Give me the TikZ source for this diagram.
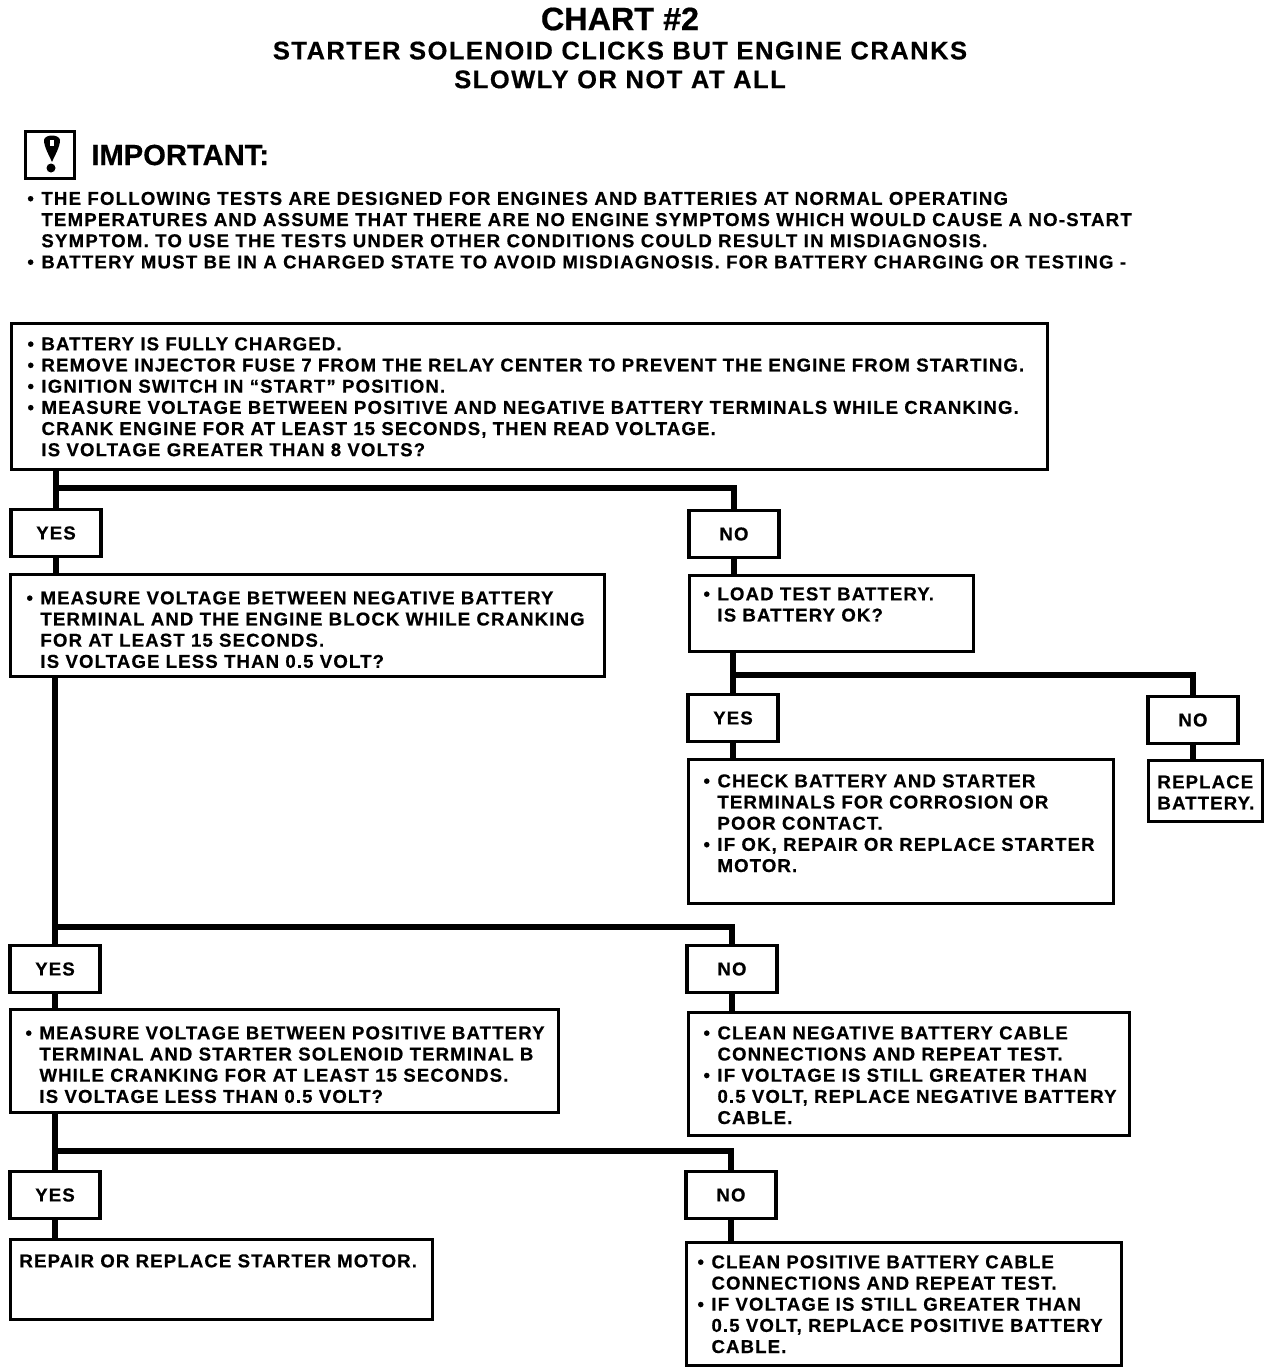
\documentclass[tikz,border=0pt]{standalone}
\usepackage{fontspec}
\setmainfont{Liberation Sans}[BoldFeatures={FakeBold=0.5}]
\newfontfamily\chartfont[LetterSpace=6.0,BoldFeatures={FakeBold=0.5}]{Liberation Sans}
\newfontfamily\notefont[LetterSpace=6.5,BoldFeatures={FakeBold=0.5}]{Liberation Sans}
\newlength{\px}
\setlength{\px}{0.02cm}
\newcommand{\bul}{\makebox[14\px][l]{\textbullet}}
\newcommand{\ind}{\hspace*{14\px}}
% width, height, left offset, top offset, lines
\newcommand{\boxtxt}[5]{\parbox[t][#2\px][t]{#1\px}{\vspace*{#4\px}\leftskip=#3\px\relax\rightskip=0pt plus 1fil\relax\strut #5\strut}}
\tikzset{
  box/.style={draw, line width=1.7pt, anchor=north west, inner sep=0pt,
    font=\chartfont\bfseries\fontsize{10.6}{12.05}\selectfont},
  tag/.style={draw, line width=1.9pt, inner sep=0pt, minimum width=90\px, minimum height=47\px,
    font=\chartfont\bfseries\fontsize{10.6}{12.05}\selectfont},
  note/.style={anchor=north west, inner sep=0pt, align=left,
    font=\notefont\bfseries\fontsize{10.6}{12.05}\selectfont},
  trunk/.style={line width=3.9pt}
}
\begin{document}
\begin{tikzpicture}[x=0.02cm, y=-0.02cm]
    \useasboundingbox (0,0) rectangle (1280,1372);
    \fill[white] (0,0) rectangle (1280,1372);

    % 1. Title
    \node[font=\bfseries\fontsize{18.4}{18}\selectfont] (chart) at (620,19) {CHART \#2};
    \node[font=\chartfont\bfseries\fontsize{14.5}{16.4}\selectfont, align=center] (title) at (620,65)
        {STARTER SOLENOID CLICKS BUT ENGINE CRANKS\\SLOWLY OR NOT AT ALL};

    % 2. Warning
    \node[draw, line width=2pt, minimum width=49\px, minimum height=47\px, inner sep=0pt] (warn) at (50,155) {};
    \fill (44,140) .. controls (45,134) and (59,134) .. (60,140)
        .. controls (60,147) and (55,155) .. (52,162)
        .. controls (49,155) and (44,147) .. (44,140) -- cycle;
    \fill[white] (50,140) rectangle (54,146);
    \fill (51,168) circle (4.5);
    \node[anchor=west, inner sep=0pt, font=\bfseries\fontsize{16.6}{18}\selectfont] (important) at (91,155) {IMPORTANT:};
    \node[note] (tests) at (27,191.5) {\bul THE FOLLOWING TESTS ARE DESIGNED FOR ENGINES AND BATTERIES AT NORMAL OPERATING\\
        \ind TEMPERATURES AND ASSUME THAT THERE ARE NO ENGINE SYMPTOMS WHICH WOULD CAUSE A NO-START\\
        \ind SYMPTOM. TO USE THE TESTS UNDER OTHER CONDITIONS COULD RESULT IN MISDIAGNOSIS.\\
        \bul BATTERY MUST BE IN A CHARGED STATE TO AVOID MISDIAGNOSIS. FOR BATTERY CHARGING OR TESTING -};

    % 3. First test
    \node[box] (main) at (10,322) {\boxtxt{1036}{146}{16}{12}{\bul BATTERY IS FULLY CHARGED.\\
        \bul REMOVE INJECTOR FUSE 7 FROM THE RELAY CENTER TO PREVENT THE ENGINE FROM STARTING.\\
        \bul IGNITION SWITCH IN “START” POSITION.\\
        \bul MEASURE VOLTAGE BETWEEN POSITIVE AND NEGATIVE BATTERY TERMINALS WHILE CRANKING.\\
        \ind CRANK ENGINE FOR AT LEAST 15 SECONDS, THEN READ VOLTAGE.\\
        \ind IS VOLTAGE GREATER THAN 8 VOLTS?}};
    \node[tag] (yesa) at (56,533) {YES};
    \node[tag] (noa) at (734,534) {NO};
    \node[box] (groundtest) at (9,573) {\boxtxt{594}{102}{16}{15}{\bul MEASURE VOLTAGE BETWEEN NEGATIVE BATTERY\\
        \ind TERMINAL AND THE ENGINE BLOCK WHILE CRANKING\\
        \ind FOR AT LEAST 15 SECONDS.\\
        \ind IS VOLTAGE LESS THAN 0.5 VOLT?}};
    \node[box] (loadtest) at (688,574) {\boxtxt{284}{76}{14}{10}{\bul LOAD TEST BATTERY.\\
        \ind IS BATTERY OK?}};

    % 4. Battery branch
    \node[tag] (yesb) at (733,718) {YES};
    \node[tag] (nob) at (1193,720) {NO};
    \node[box] (corrosion) at (687,758) {\boxtxt{425}{144}{15}{13}{\bul CHECK BATTERY AND STARTER\\
        \ind TERMINALS FOR CORROSION OR\\
        \ind POOR CONTACT.\\
        \bul IF OK, REPAIR OR REPLACE STARTER\\
        \ind MOTOR.}};
    \node[box] (replace) at (1147,759) {\boxtxt{114}{61}{9}{13}{REPLACE\\BATTERY.}};

    % 5. Ground branch
    \node[tag] (yesc) at (55,969) {YES};
    \node[tag] (noc) at (732,969) {NO};
    \node[box] (solenoid) at (9,1008) {\boxtxt{548}{103}{15}{15}{\bul MEASURE VOLTAGE BETWEEN POSITIVE BATTERY\\
        \ind TERMINAL AND STARTER SOLENOID TERMINAL B\\
        \ind WHILE CRANKING FOR AT LEAST 15 SECONDS.\\
        \ind IS VOLTAGE LESS THAN 0.5 VOLT?}};
    \node[box] (negcable) at (687,1011) {\boxtxt{441}{123}{15}{12}{\bul CLEAN NEGATIVE BATTERY CABLE\\
        \ind CONNECTIONS AND REPEAT TEST.\\
        \bul IF VOLTAGE IS STILL GREATER THAN\\
        \ind 0.5 VOLT, REPLACE NEGATIVE BATTERY\\
        \ind CABLE.}};

    % 6. Solenoid branch
    \node[tag] (yesd) at (55,1195) {YES};
    \node[tag] (nod) at (731,1195) {NO};
    \node[box] (repair) at (9,1238) {\boxtxt{422}{80}{9}{13}{REPAIR OR REPLACE STARTER MOTOR.}};
    \node[box] (poscable) at (685,1241) {\boxtxt{435}{123}{11}{11}{\bul CLEAN POSITIVE BATTERY CABLE\\
        \ind CONNECTIONS AND REPEAT TEST.\\
        \bul IF VOLTAGE IS STILL GREATER THAN\\
        \ind 0.5 VOLT, REPLACE POSITIVE BATTERY\\
        \ind CABLE.}};

    % 7. Heavy lines
    \coordinate (forka) at (0,488);
    \coordinate (forkb) at (0,675);
    \coordinate (forkc) at (0,927);
    \coordinate (forkd) at (0,1151);
    \draw[trunk] (main.south -| yesa.north) -- (yesa.north);
    \draw[trunk] (yesa |- forka) -| (noa.north);
    \draw[trunk] (yesa.south) -- (yesa.south |- groundtest.north);
    \draw[trunk] (noa.south) -- (noa.south |- loadtest.north);
    \draw[trunk] (loadtest.south -| yesb.north) -- (yesb.north);
    \draw[trunk] (yesb |- forkb) -| (nob.north);
    \draw[trunk] (yesb.south) -- (yesb.south |- corrosion.north);
    \draw[trunk] (nob.south) -- (nob.south |- replace.north);
    \draw[trunk] (groundtest.south -| yesc.north) -- (yesc.north);
    \draw[trunk] (yesc |- forkc) -| (noc.north);
    \draw[trunk] (yesc.south) -- (yesc.south |- solenoid.north);
    \draw[trunk] (noc.south) -- (noc.south |- negcable.north);
    \draw[trunk] (solenoid.south -| yesd.north) -- (yesd.north);
    \draw[trunk] (yesd |- forkd) -| (nod.north);
    \draw[trunk] (yesd.south) -- (yesd.south |- repair.north);
    \draw[trunk] (nod.south) -- (nod.south |- poscable.north);
\end{tikzpicture}
\end{document}
